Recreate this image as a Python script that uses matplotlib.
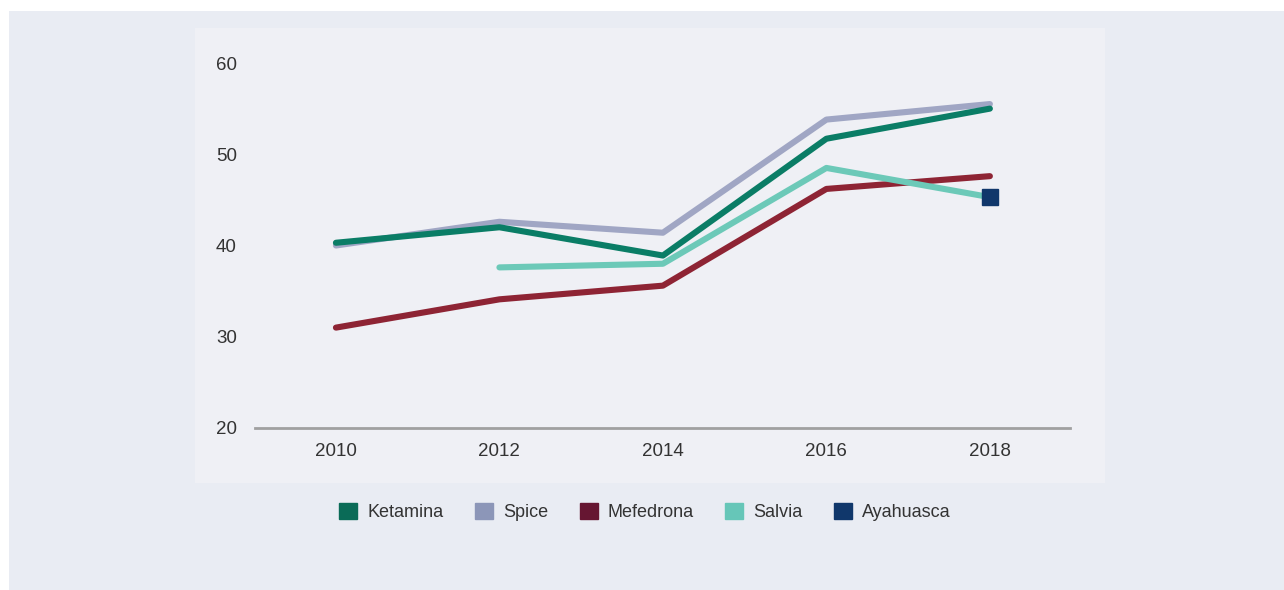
import matplotlib.pyplot as plt
from matplotlib.patches import Rectangle, Patch

# Datos
years = [2010, 2012, 2014, 2016, 2018]
ketamina = [40.3, 42.0, 38.9, 51.7, 55.0]
spice = [40.0, 42.6, 41.4, 53.8, 55.5]
mefedrona = [31.0, 34.1, 35.6, 46.2, 47.6]
salvia_years = [2012, 2014, 2016, 2018]
salvia = [37.6, 38.0, 48.5, 45.3]
ayahuasca_years = [2018]
ayahuasca = [45.3]
yticks = [20, 30, 40, 50, 60]

W, H = 1284, 590
fig = plt.figure(figsize=(W/100, H/100), dpi=100)
fig.patch.set_facecolor('white')
plt.rcParams['font.family'] = ['Liberation Sans', 'DejaVu Sans']

# fondo exterior y panel interior
fig.patches.append(Rectangle((9/W, 0), 1-9/W, 1-11/H, transform=fig.transFigure,
                             facecolor='#e9ecf3', edgecolor='none', zorder=-2))
fig.patches.append(Rectangle((195/W, 1-483/H), (1105-195)/W, (483-28)/H,
                             transform=fig.transFigure, facecolor='#eff0f5',
                             edgecolor='none', zorder=-1))

ax = fig.add_axes([255/W, 1-428/H, (1070-255)/W, (428-63)/H])
ax.set_facecolor('none')
ax.set_zorder(1)

ax.plot(years, spice, color='#a0a6c4', lw=4.4, solid_capstyle='round')
ax.plot(years, ketamina, color='#0a7d66', lw=4.4, solid_capstyle='round')
ax.plot(years, mefedrona, color='#8e2434', lw=4.4, solid_capstyle='round')
ax.plot(salvia_years, salvia, color='#6cc9b8', lw=4.4, solid_capstyle='round')
ax.plot(ayahuasca_years, ayahuasca, marker='s', ms=11.5, color='#10376b', lw=0)

ax.set_xlim(2009.01, 2018.98)
ax.set_ylim(20, 60)
ax.set_xticks(years)
ax.set_yticks(yticks)
ax.tick_params(length=0, labelsize=13.5, labelcolor='#333333')
ax.tick_params(axis='y', pad=13)
ax.tick_params(axis='x', pad=11)
for s in ['top', 'right', 'left']:
    ax.spines[s].set_visible(False)
ax.spines['bottom'].set_color('#a0a0a0')
ax.spines['bottom'].set_linewidth(2)
ax.spines['bottom'].set_zorder(1)

handles = [Patch(color='#0a6b57', label='Ketamina'),
           Patch(color='#8c96b8', label='Spice'),
           Patch(color='#661632', label='Mefedrona'),
           Patch(color='#66c6b8', label='Salvia'),
           Patch(color='#10376b', label='Ayahuasca')]
fig.legend(handles=handles, loc='center', bbox_to_anchor=(645/W, 1-512/H), ncol=5,
           frameon=False, fontsize=13, handlelength=1.0, handleheight=1.0,
           handletextpad=0.55, columnspacing=1.75, labelcolor='#333333')

fig.savefig('out.png', dpi=100, facecolor=fig.get_facecolor())
